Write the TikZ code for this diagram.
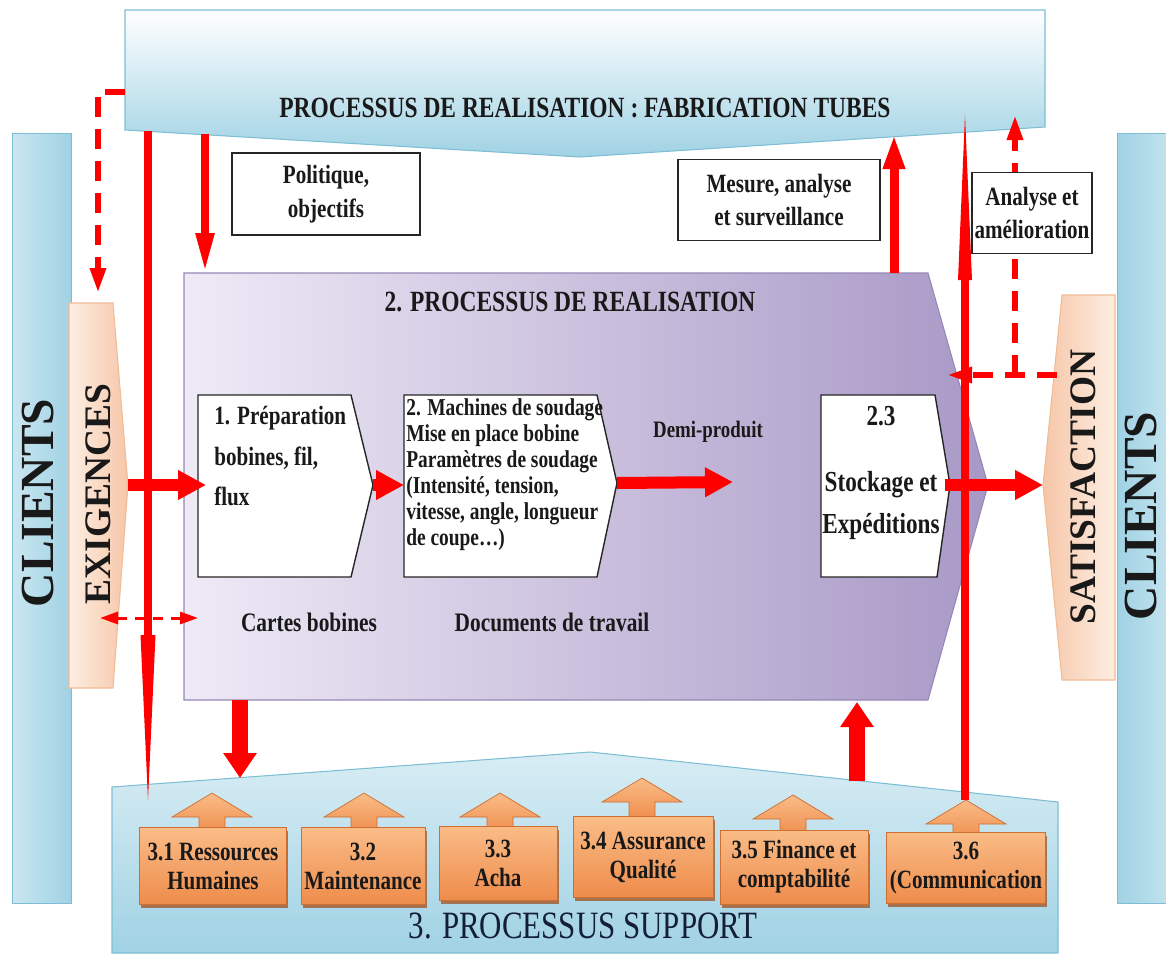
\documentclass[tikz,border=0pt]{standalone}
\usepackage{fontspec}
\setmainfont[FakeStretch=0.8]{Liberation Serif}
\newfontfamily\rotfont{Liberation Serif}
\usetikzlibrary{arrows.meta,shadows}
\definecolor{bluD}{RGB}{160,210,228}
\definecolor{bluE}{RGB}{125,190,212}
\definecolor{purL}{RGB}{238,234,246}
\definecolor{purD}{RGB}{168,152,198}
\definecolor{purE}{RGB}{150,135,182}
\definecolor{pchL}{RGB}{253,238,226}
\definecolor{pchD}{RGB}{246,198,168}
\definecolor{pchE}{RGB}{240,188,150}
\definecolor{orgL}{RGB}{250,188,135}
\definecolor{orgD}{RGB}{238,140,75}
\definecolor{orgE}{RGB}{205,110,50}
\definecolor{txtD}{RGB}{25,25,25}
\definecolor{navy}{RGB}{20,30,55}

\begin{document}
\begin{tikzpicture}[x=0.2mm, y=-0.2mm,
    every node/.style={inner sep=0pt, text=txtD},
    bfb/.style={font=\bfseries\fontsize{15}{19}\selectfont, align=center},
    rotbig/.style={rotate=90, font=\rotfont\bfseries\fontsize{27}{27}\selectfont},
    rotmid/.style={rotate=90, font=\rotfont\bfseries\fontsize{21.3}{22}\selectfont},
    ttlbar/.style={font=\bfseries\fontsize{16.7}{18}\selectfont},
    wbox/.style={draw=black!85, line width=0.8pt, fill=white},
    lblbox/.style={wbox, bfb},
    thickarr/.style={draw=red, line width=2.4mm, -{Triangle[length=5.6mm,width=5.6mm]}},
    vertarr/.style={draw=red, line width=3.2mm, -{Triangle[length=5mm,width=6.4mm]}},
    thinarr/.style={draw=red, line width=1.6mm, -{Triangle[length=8mm,width=3.4mm]}},
    midarr/.style={draw=red, line width=1.8mm, -{Triangle[length=7mm,width=4mm]}},
    longline/.style={draw=red, line width=1.6mm},
    dasharr/.style={draw=red, line width=1.2mm, dash pattern=on 4mm off 2.4mm, -{Triangle[length=5mm,width=3mm]}},
    obox/.style={top color=orgL, bottom color=orgD, draw=orgE, line width=0.4pt,
      font=\bfseries\fontsize{15}{16.5}\selectfont, align=center,
      drop shadow={shadow xshift=0.3mm, shadow yshift=-0.7mm, fill=orgE!80!black, opacity=0.8}},
    uparr/.pic={\path[top color=orgL, bottom color=orgD, draw=orgE, line width=0.4pt]
      (0,0) -- (40,24) -- (13,24) -- (13,42) -- (-13,42) -- (-13,24) -- (-40,24) -- cycle;},
  ]
  \useasboundingbox (0,0) rectangle (1166,965);

  % clients
  \shade[left color=bluD!55, right color=bluD, draw=bluE] (12,133) rectangle (71,903);
  \node[rotbig] (cliL) at (38,503) {CLIENTS};
  \shade[left color=bluD, right color=bluD!55, draw=bluE] (1117,133) rectangle (1180,903);
  \node[rotbig] (cliR) at (1141,516) {CLIENTS};

  % processus de realisation : bandeau
  \shade[top color=white, bottom color=bluD, draw=bluE, line width=0.6pt]
    (125,10) -- (1045,10) -- (1045,127) -- (580,157) -- (125,130) -- cycle;
  \node[ttlbar] (bantxt) at (585,108) {PROCESSUS DE REALISATION : FABRICATION TUBES};

  % processus support
  \shade[top color=bluD!40, bottom color=bluD, draw=bluE, line width=0.6pt]
    (112,787) -- (590,752) -- (1058,802) -- (1058,953) -- (112,953) -- cycle;
  \node[font=\fontsize{22}{24}\selectfont, text=navy] (suptxt) at (583,926) {3. PROCESSUS SUPPORT};

  % 2. processus de realisation
  \shade[left color=purL, right color=purD, draw=purE, line width=0.6pt]
    (184,273) -- (928,273) -- (988,485) -- (928,700) -- (184,700) -- cycle;
  \node[ttlbar] (purtxt) at (570,302) {2. PROCESSUS DE REALISATION};

  % exigences / satisfaction
  \shade[left color=pchL, right color=pchD, draw=pchE, line width=0.6pt]
    (69,303) -- (113,303) -- (128,485) coordinate (exiE) -- (113,688) -- (69,688) -- cycle;
  \node[rotmid] (exig) at (98,494) {EXIGENCES};
  \shade[left color=pchD, right color=pchL, draw=pchE, line width=0.6pt]
    (1062,295) -- (1115,295) -- (1115,680) -- (1062,680) -- (1043,485) coordinate (satW) -- cycle;
  \node[rotmid] (satis) at (1083,487) {SATISFACTION};

  % etapes
  \draw[wbox] (198,395) -- (351,395) -- (373,485) coordinate (prepE) -- (351,577) -- (198,577)
    -- (198,485) coordinate (prepW) -- cycle;
  \node[font=\bfseries\fontsize{15}{23}\selectfont, align=left, anchor=west] (prep) at (214,456)
    {1. Préparation\\bobines, fil,\\flux};
  \draw[wbox] (404,395) -- (597,395) -- (617,483) coordinate (machE) -- (597,577) -- (404,577)
    -- (404,485) coordinate (machW) -- cycle;
  \node[font=\bfseries\fontsize{13.8}{14.8}\selectfont, align=left, anchor=west] (mach) at (406,475)
    {2. Machines de soudage\\Mise en place bobine\\Paramètres de soudage\\(Intensité, tension,\\vitesse, angle, longueur\\de coupe…)};
  \draw[wbox] (821,395) -- (935,395) -- (950,485) coordinate (stockE) -- (937,577) -- (821,577) -- cycle;
  \node[font=\bfseries\fontsize{16.5}{24}\selectfont, align=center] (stock) at (881,473)
    {2.3\\[14pt]Stockage et\\Expéditions};

  \node[font=\bfseries\fontsize{13.4}{15}\selectfont] (demi) at (708,432) {Demi-produit};
  \coordinate (demiE) at (733,482);
  \node[font=\bfseries\fontsize{15.2}{17}\selectfont] (cartes) at (309,622) {Cartes bobines};
  \node[font=\bfseries\fontsize{15.2}{17}\selectfont] (docs) at (552,622) {Documents de travail};

  % points d'accroche
  \coordinate (ban1) at (148,131);  \coordinate (sup1) at (148,800);  \coordinate (tap1) at (148,635);
  \coordinate (ban2) at (205,134);  \coordinate (pur2) at (205,273);
  \coordinate (banL) at (125,92);   \coordinate (exiT) at (98,293);
  \coordinate (purB) at (240,700);  \coordinate (supB) at (240,778);
  \coordinate (supT) at (857,781);  \coordinate (purT) at (857,702);
  \coordinate (purM) at (894,273);  \coordinate (banM) at (894,134);
  \coordinate (comT) at (965,800);  \coordinate (ban3) at (965,115);  \coordinate (tap3) at (965,280);
  \coordinate (satD) at (1057,375); \coordinate (purD) at (947,375);
  \coordinate (tee) at (1015,375);  \coordinate (ban4) at (1015,115);
  \coordinate (exiC) at (100,618);  \coordinate (cartW) at (198,618);

  % fleches
  \draw[longline] (ban1) -- (tap1);
  \fill[red] (tap1) ++(-7.5,0) -- ++(15,0) -- (sup1) -- cycle;
  \draw[thinarr] (ban2) -- (pur2);
  \draw[dasharr] (banL) -| (exiT);
  \draw[thickarr] (exiE) -- ++(78,0);
  \draw[thickarr] (prepE) -- (machW);
  \draw[thickarr] (machE) -- (demiE);
  \draw[thickarr] (stockE) ++(-5,0) -- (satW);
  \draw[vertarr] (purB) -- (supB);
  \draw[vertarr] (supT) -- (purT);
  \draw[midarr] (purM) -- (banM);
  \draw[dasharr] (satD) -- (purD);
  \draw[dasharr] (tee) -- (ban4);
  \draw[longline] (comT) -- (tap3);
  \fill[red] (tap3) ++(-7,0) -- ++(14,0) -- (ban3) -- cycle;
  \draw[draw=red, line width=0.6mm, dash pattern=on 2mm off 1.6mm,
    {Triangle[length=3.6mm,width=2.4mm]}-{Triangle[length=3.6mm,width=2.4mm]}] (exiC) -- (cartW);

  % cadres
  \node[lblbox, minimum width=37.6mm, minimum height=16.4mm] (polit) at (326,194) {Politique,\\objectifs};
  \node[lblbox, minimum width=40.4mm, minimum height=16.2mm] (mesure) at (779,200) {Mesure, analyse\\et surveillance};
  \node[lblbox, minimum width=24mm, minimum height=16.2mm] (analyse) at (1032,213) {Analyse et\\amélioration};

  % processus support
  \pic at (212,793) {uparr};
  \pic at (364,793) {uparr};
  \pic at (500,793) {uparr};
  \pic at (642,778) {uparr};
  \pic at (793,795) {uparr};
  \pic at (966,800) {uparr};
  \node[obox, minimum width=29.4mm, minimum height=15.4mm] (rh) at (213,866) {3.1 Ressources\\Humaines};
  \node[obox, minimum width=24.8mm, minimum height=15.4mm] (maint) at (363,866) {3.2\\Maintenance};
  \node[obox, minimum width=23.6mm, minimum height=14.8mm] (acha) at (498,863) {3.3\\Acha};
  \node[obox, minimum width=28mm, minimum height=16.2mm] (aq) at (643,857) {3.4 Assurance\\Qualité};
  \node[obox, minimum width=29.6mm, minimum height=14.8mm] (fin) at (794,867) {3.5 Finance et\\comptabilité};
  \node[obox, minimum width=31.8mm, minimum height=14.2mm] (com) at (966,868) {3.6\\(Communication};
\end{tikzpicture}
\end{document}
